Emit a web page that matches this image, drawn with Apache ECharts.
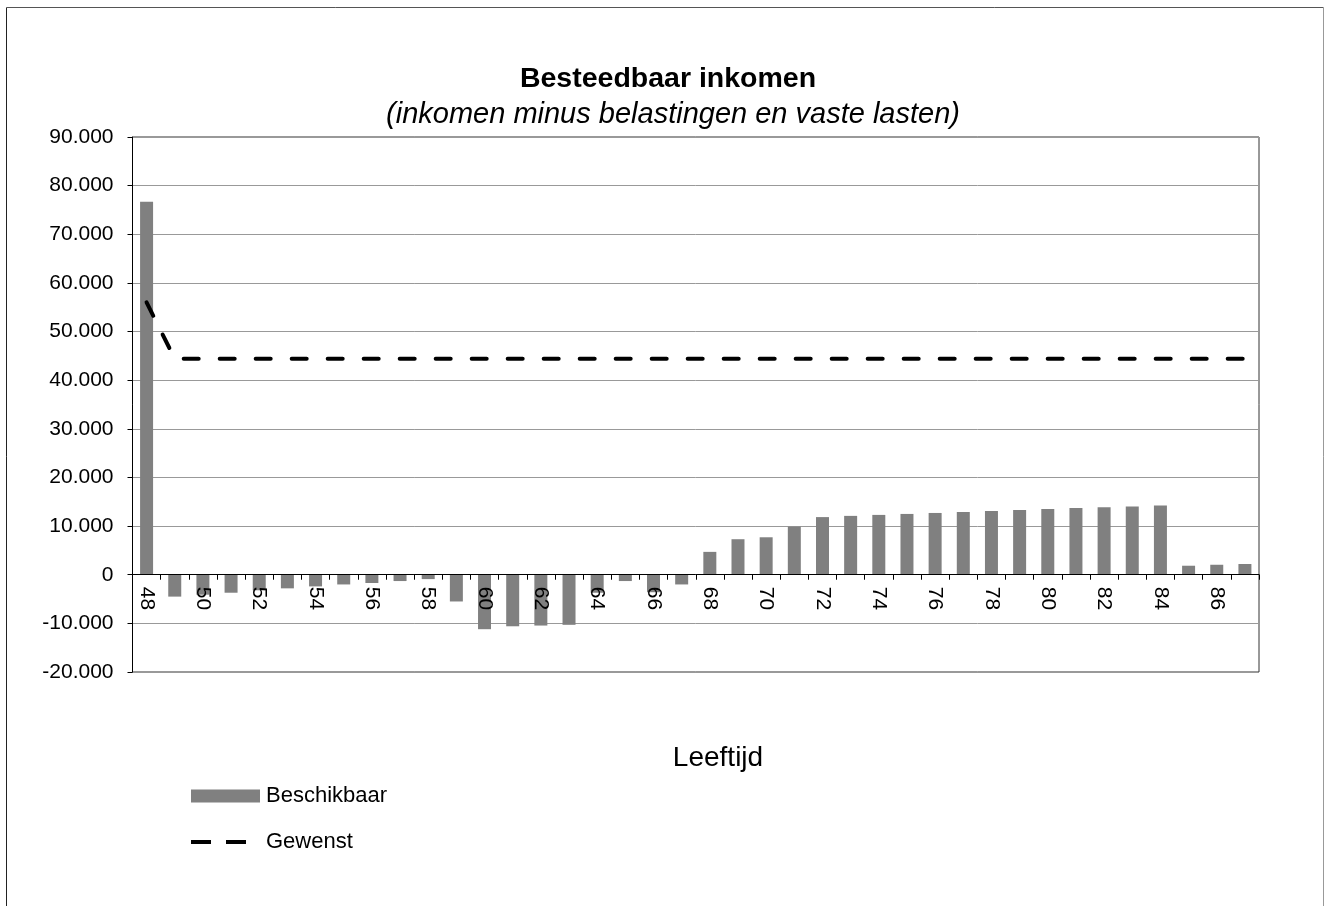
<!DOCTYPE html>
<html>
<head>
<meta charset="utf-8">
<script src="https://cdn.jsdelivr.net/npm/echarts@6/dist/echarts.min.js"></script>
<style>
html,body{margin:0;padding:0;background:#fff;}
#chart{width:1326px;height:906px;}
</style>
</head>
<body>
<div id="chart"></div>
<script>
const ages = [48,49,50,51,52,53,54,55,56,57,58,59,60,61,62,63,64,65,66,67,68,69,70,71,72,73,74,75,76,77,78,79,80,81,82,83,84,85,86,87];
const beschikbaar = [76700,-4500,-4100,-3700,-3200,-2800,-2400,-2000,-1700,-1300,-900,-5500,-11200,-10600,-10450,-10300,-3700,-1300,-3600,-2000,4700,7300,7700,9900,11850,12100,12300,12500,12700,12900,13100,13300,13500,13700,13850,14050,14250,1850,2050,2200];
const gewenst = [56000,44400,44400,44400,44400,44400,44400,44400,44400,44400,44400,44400,44400,44400,44400,44400,44400,44400,44400,44400,44400,44400,44400,44400,44400,44400,44400,44400,44400,44400,44400,44400,44400,44400,44400,44400,44400,44400,44400,44400];
const yTicks = [-20000,-10000,0,10000,20000,30000,40000,50000,60000,70000,80000,90000];
const titleText = 'Besteedbaar inkomen';
const subtitleText = '(inkomen minus belastingen en vaste lasten)';
const xName = 'Leeftijd';
const seriesNames = ['Beschikbaar', 'Gewenst'];

const FONT = 'Liberation Sans, Arial, sans-serif';
function fmt(v) {
  if (v === 0) return '0';
  const neg = v < 0;
  let s = String(Math.abs(v)).replace(/\B(?=(\d{3})+(?!\d))/g, '.');
  return (neg ? '-' : '') + s;
}

const gridTop = 137, gridBottomPx = 672;
const yMin = yTicks[0], yMax = yTicks[yTicks.length - 1];
// distance of the zero line above the bottom of the plot, via the axis range
const zeroOffset = (gridBottomPx - gridTop) * (0 - yMin) / (yMax - yMin);

const chart = echarts.init(document.getElementById('chart'));
chart.setOption({
  animation: false,
  backgroundColor: '#fff',
  textStyle: { fontFamily: FONT },
  title: [
    { text: titleText, left: 663, textAlign: 'center', top: 57,
      textStyle: { fontFamily: FONT, fontSize: 28.5, fontWeight: 'bold', color: '#000', lineHeight: 34 } },
    { text: subtitleText, left: 668, textAlign: 'center', top: 93,
      textStyle: { fontFamily: FONT, fontSize: 29, fontStyle: 'italic', fontWeight: 'normal', color: '#000', lineHeight: 34 } },
    { text: xName, left: 713, textAlign: 'center', top: 736,
      textStyle: { fontFamily: FONT, fontSize: 28, fontWeight: 'normal', color: '#000', lineHeight: 34 } }
  ],
  graphic: [
    { type: 'line', shape: { x1: 6.5, y1: 7.5, x2: 6.5, y2: 906 }, style: { stroke: '#222', lineWidth: 1 } },
    { type: 'line', shape: { x1: 6.5, y1: 7.5, x2: 1323.5, y2: 7.5 }, style: { stroke: '#555', lineWidth: 1 } },
    { type: 'line', shape: { x1: 1323.5, y1: 7.5, x2: 1323.5, y2: 906 }, style: { stroke: '#999', lineWidth: 1 } }
  ],
  legend: {
    orient: 'vertical', left: 189, top: 785, padding: 0,
    itemWidth: 69, itemHeight: 13, itemGap: 24,
    textStyle: { fontFamily: FONT, fontSize: 22, color: '#000', lineHeight: 22, padding: [0, 0, 0, 1] },
    data: [
      { name: seriesNames[0], icon: 'rect' },
      { name: seriesNames[1],
        itemStyle: { opacity: 0 },
        lineStyle: { color: '#000', width: 4, type: [20, 15], cap: 'butt', opacity: 1 } }
    ]
  },
  grid: { left: 132.5, right: 67, top: gridTop, bottom: 906 - gridBottomPx, show: true, borderColor: '#333', borderWidth: 1, containLabel: false },
  xAxis: {
    type: 'category', data: ages, boundaryGap: true, z: 10,
    offset: -zeroOffset,
    axisLine: { onZero: false, lineStyle: { color: '#000', width: 1 } },
    axisTick: { show: true, interval: 0, length: 5, inside: false, lineStyle: { color: '#000' } },
    axisLabel: { interval: 1, rotate: -90, margin: 12, color: '#000', fontFamily: FONT, fontSize: 21 },
    splitLine: { show: false }
  },
  yAxis: {
    type: 'value', min: yMin, max: yMax, interval: 10000,
    axisLine: { show: true, lineStyle: { color: '#000', width: 1 } },
    axisTick: { show: true, length: 5, lineStyle: { color: '#000' } },
    axisLabel: { margin: 19, color: '#000', fontFamily: FONT, fontSize: 21, formatter: fmt },
    splitLine: { show: true, lineStyle: { color: '#999', width: 1 } }
  },
  series: [
    { name: seriesNames[0], type: 'bar', data: beschikbaar, barWidth: 13,
      itemStyle: { color: '#808080' }, z: 2 },
    { name: seriesNames[1], type: 'line', data: gewenst, symbol: 'none', smooth: false, z: 3,
      lineStyle: { color: '#000', width: 4, type: [15, 21], cap: 'round' },
      itemStyle: { color: '#000' } }
  ]
});
</script>
</body>
</html>
